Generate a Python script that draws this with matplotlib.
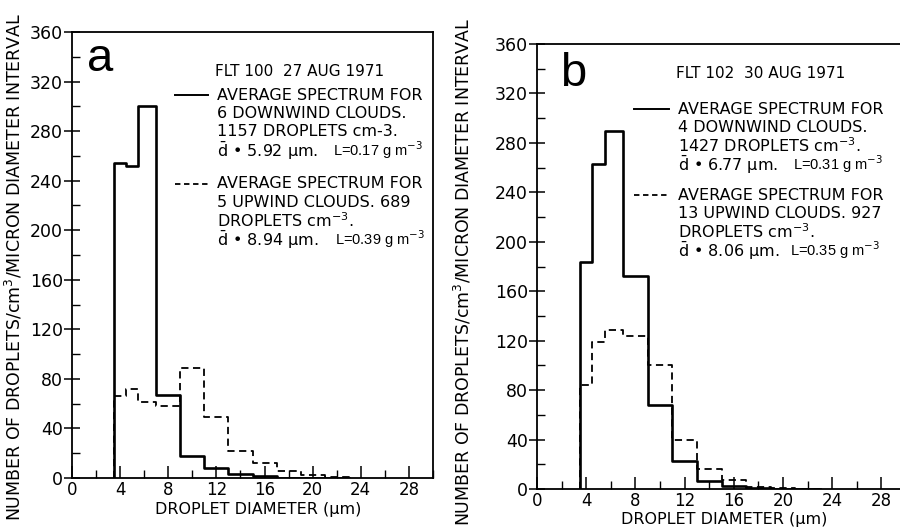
import numpy as np
import matplotlib.pyplot as plt
from matplotlib import font_manager
from matplotlib.ticker import MultipleLocator

plt.rcParams['font.family'] = ['DejaVu Sans']
plt.rcParams['mathtext.fontset'] = 'dejavusans'

_names = {f.name for f in font_manager.fontManager.ttflist}
NARROW = 'Liberation Sans Narrow' if 'Liberation Sans Narrow' in _names else 'Liberation Sans'

# bin edges (micron)
edges = [3.5, 4.5, 5.5, 7, 9, 11, 13, 15, 17, 19, 21, 23]

# FLT 100, 27 AUG 1971
down_a = [254, 252, 300, 67, 18, 8, 3, 1.5, 0, 0, 0]
up_a = [66, 72, 61, 58, 89, 49, 22, 12, 6, 2.5, 0.6]

# FLT 102, 30 AUG 1971
down_b = [184, 263, 290, 172, 68, 23, 6.5, 2.5, 1, 0, 0]
up_b = [84, 119, 129, 124, 100, 40, 16, 7, 2, 0.6, 0]

xticks = [0, 4, 8, 12, 16, 20, 24, 28]
yticks = [0, 40, 80, 120, 160, 200, 240, 280, 320, 360]

YLAB = 'NUMBER OF DROPLETS/cm$^3$/MICRON DIAMETER INTERVAL'
XLAB = 'DROPLET DIAMETER (μm)'

fig = plt.figure(figsize=(9, 5.27), dpi=100)
ax_a = fig.add_axes([72 / 900, 49 / 527, 361 / 900, 446 / 527])
ax_b = fig.add_axes([537 / 900, 38 / 527, 369 / 900, 445 / 527])


def px(x, y):
    return x / 900, 1 - y / 527


def step_line(ax, vals, ls):
    x = np.repeat(edges, 2)[1:-1]
    y = np.repeat(vals, 2)
    x = np.concatenate([[edges[0]], x, [edges[-1]]])
    y = np.concatenate([[0], y, [0]])
    if ls == '-':
        ax.plot(x, y, color='black', lw=1.9, ls='-')
    else:
        ax.plot(x, y, color='black', lw=1.3, ls=(0, (4, 2.5)))


def style(ax):
    ax.set_xlim(0, 30)
    ax.set_ylim(0, 360)
    ax.set_xticks(xticks)
    ax.set_yticks(yticks)
    ax.xaxis.set_minor_locator(MultipleLocator(2))
    ax.yaxis.set_minor_locator(MultipleLocator(20))
    ax.tick_params(axis='x', which='major', direction='in', length=9, width=1.1, labelsize=12, pad=2)
    ax.tick_params(axis='x', which='minor', direction='in', length=6, width=1)
    ax.tick_params(axis='y', which='major', direction='inout', length=11, width=1.1, labelsize=12.5, pad=1)
    ax.tick_params(axis='y', which='minor', direction='in', length=6, width=1)
    for s in ax.spines.values():
        s.set_linewidth(1.3)


for ax, d, u in [(ax_a, down_a, up_a), (ax_b, down_b, up_b)]:
    style(ax)
    step_line(ax, u, '--')
    step_line(ax, d, '-')

fig.text(*px(14, 267), YLAB, rotation=90, ha='center', va='center', fontsize=12.5)
fig.text(*px(463, 272), YLAB, rotation=90, ha='center', va='center', fontsize=12.5)
fig.text(*px(258, 514), XLAB, ha='center', va='baseline', fontsize=11.5)
fig.text(*px(724, 524), XLAB, ha='center', va='baseline', fontsize=11.5)

# panel letters
fig.text(*px(100, 59), 'a', fontsize=34, family='Liberation Sans', ha='center', va='center')
fig.text(*px(573, 74), 'b', fontsize=34, family='Liberation Sans', ha='center', va='center')


def legend_block(x_line, x_text, y_title, y_first, lines1, y_second, lines2, title, last1, last2):
    fig.text(*px(x_text - 2, y_title), title, fontsize=11, ha='left', va='center')
    fig.add_artist(plt.Line2D([x_line / 900, (x_text - 9) / 900], [1 - y_first / 527] * 2,
                              color='black', lw=1.4))
    fig.add_artist(plt.Line2D([x_line / 900, (x_text - 9) / 900], [1 - y_second / 527] * 2,
                              color='black', lw=1.3, ls=(0, (3, 2))))
    step = 18.5
    for i, t in enumerate(lines1):
        fig.text(*px(x_text, y_first + i * step), t, fontsize=11.5, ha='left', va='center')
    fig.text(*px(x_text, y_first + 3 * step), last1[0], fontsize=11.5, ha='left', va='center')
    fig.text(*px(x_text + last1[2], y_first + 3 * step), last1[1], fontsize=10.5, family=NARROW,
             ha='left', va='center')
    for i, t in enumerate(lines2):
        fig.text(*px(x_text, y_second + i * step), t, fontsize=11.5, ha='left', va='center')
    fig.text(*px(x_text, y_second + 3 * step), last2[0], fontsize=11.5, ha='left', va='center')
    fig.text(*px(x_text + last2[2], y_second + 3 * step), last2[1], fontsize=10.5, family=NARROW,
             ha='left', va='center')


legend_block(175, 217, 71, 95,
             ['AVERAGE SPECTRUM FOR', '6 DOWNWIND CLOUDS.', '1157 DROPLETS cm-3.'],
             184,
             ['AVERAGE SPECTRUM FOR', '5 UPWIND CLOUDS. 689', 'DROPLETS cm$^{-3}$.'],
             'FLT 100  27 AUG 1971',
             ('$\\bar{\\mathrm{d}}$ • 5.92 μm.', 'L=0.17 g m$^{-3}$', 116),
             ('$\\bar{\\mathrm{d}}$ • 8.94 μm.', 'L=0.39 g m$^{-3}$', 118))

legend_block(634, 678, 73, 109,
             ['AVERAGE SPECTRUM FOR', '4 DOWNWIND CLOUDS.', '1427 DROPLETS cm$^{-3}$.'],
             195,
             ['AVERAGE SPECTRUM FOR', '13 UPWIND CLOUDS. 927', 'DROPLETS cm$^{-3}$.'],
             'FLT 102  30 AUG 1971',
             ('$\\bar{\\mathrm{d}}$ • 6.77 μm.', 'L=0.31 g m$^{-3}$', 115),
             ('$\\bar{\\mathrm{d}}$ • 8.06 μm.', 'L=0.35 g m$^{-3}$', 112))

fig.savefig('out.png', dpi=100)
